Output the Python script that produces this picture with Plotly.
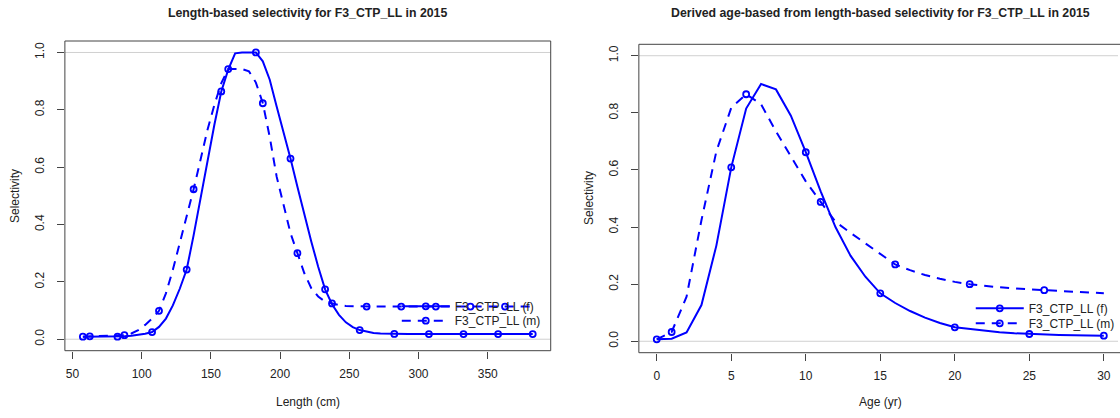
import plotly.graph_objects as go

# ---------------- data ----------------
lengths = [57.5, 62.5, 67.5, 72.5, 77.5, 82.5, 87.5, 92.5, 97.5, 102.5,
           107.5, 112.5, 117.5, 122.5, 127.5, 132.5, 137.5, 142.5, 147.5, 152.5,
           157.5, 162.5, 167.5, 172.5, 177.5, 182.5, 187.5, 192.5, 197.5, 202.5,
           207.5, 212.5, 217.5, 222.5, 227.5, 232.5, 237.5, 242.5, 247.5, 252.5,
           257.5, 262.5, 267.5, 272.5, 277.5, 282.5, 287.5, 292.5, 297.5, 302.5,
           307.5, 312.5, 317.5, 322.5, 327.5, 332.5, 337.5, 342.5, 347.5, 352.5,
           357.5, 362.5, 367.5, 372.5, 377.5, 382.5]

sel_len_f = [0.009, 0.009, 0.009, 0.009, 0.009, 0.009, 0.010, 0.012, 0.015, 0.019,
             0.025, 0.043, 0.072, 0.118, 0.176, 0.243, 0.362, 0.492, 0.620, 0.748,
             0.864, 0.940, 0.997, 1.000, 1.000, 1.000, 0.969, 0.905, 0.812, 0.724,
             0.630, 0.532, 0.434, 0.341, 0.253, 0.174, 0.122, 0.085, 0.059, 0.042,
             0.032, 0.026, 0.022, 0.020, 0.019, 0.0185, 0.018, 0.018, 0.018, 0.018,
             0.018, 0.018, 0.018, 0.018, 0.018, 0.018, 0.018, 0.018, 0.018, 0.018,
             0.018, 0.018, 0.018, 0.018, 0.018, 0.018]

sel_len_m = [0.009, 0.010, 0.010, 0.010, 0.011, 0.012, 0.014, 0.020, 0.032, 0.050,
             0.072, 0.099, 0.160, 0.242, 0.335, 0.428, 0.523, 0.626, 0.730, 0.817,
             0.893, 0.942, 0.943, 0.942, 0.934, 0.895, 0.823, 0.705, 0.567, 0.463,
             0.370, 0.300, 0.230, 0.178, 0.149, 0.131, 0.125, 0.119, 0.116, 0.115,
             0.114, 0.114, 0.114, 0.114, 0.114, 0.114, 0.114, 0.114, 0.114, 0.114,
             0.114, 0.114, 0.114, 0.114, 0.114, 0.114, 0.114, 0.114, 0.114, 0.114,
             0.114, 0.114, 0.114, 0.114, 0.114, 0.114]

ages = [0, 1, 2, 3, 4, 5, 6, 7, 8, 9, 10, 11, 12, 13, 14, 15, 16, 17, 18, 19,
        20, 21, 22, 23, 24, 25, 26, 27, 28, 29, 30]

sel_age_f = [0.007, 0.009, 0.031, 0.127, 0.335, 0.609, 0.815, 0.901, 0.882, 0.790,
             0.662, 0.525, 0.399, 0.300, 0.226, 0.168, 0.134, 0.106, 0.083, 0.064,
             0.049, 0.043, 0.037, 0.032, 0.028, 0.0255, 0.024, 0.022, 0.021, 0.020,
             0.0196]

sel_age_m = [0.007, 0.0325, 0.156, 0.424, 0.665, 0.818, 0.865, 0.830, 0.735, 0.645,
             0.560, 0.488, 0.418, 0.380, 0.343, 0.305, 0.269, 0.249, 0.232, 0.219,
             0.208, 0.200, 0.194, 0.189, 0.185, 0.182, 0.179, 0.176, 0.173, 0.170,
             0.168]

len_ticks = [50, 100, 150, 200, 250, 300, 350]
age_ticks = [0, 5, 10, 15, 20, 25, 30]
sel_ticks = [0.0, 0.2, 0.4, 0.6, 0.8, 1.0]
ref_levels = [0, 1]
series_names = ["F3_CTP_LL (f)", "F3_CTP_LL (m)"]
titles = ["Length-based selectivity for F3_CTP_LL in 2015",
          "Derived age-based from length-based selectivity for F3_CTP_LL in 2015"]
x_titles = ["Length (cm)", "Age (yr)"]
y_title = "Selectivity"

# ---------------- style / layout helpers ----------------
W, H = 1120, 418
FONT = "Liberation Sans, Arial, sans-serif"
BLUE = "#0000FF"
AXC = "#444444"
TXT = "#222222"


def fx(p):
    return p / W


def fy(p):
    return 1 - p / H


def marked(xs, ys, start, step=5):
    mx, my = [], []
    for i in range(start, len(xs), step):
        mx += [xs[i], None]
        my += [ys[i], None]
    return mx, my


fig = go.Figure()

panels = [
    dict(xa="x", ya="y", xs=lengths, f=sel_len_f, m=sel_len_m, legs=("legend", "legend2")),
    dict(xa="x2", ya="y2", xs=ages, f=sel_age_f, m=sel_age_m, legs=("legend3", "legend4")),
]

for p in panels:
    for k, (ys, dash, start, leg, name) in enumerate([
        (p["f"], "solid", 0, p["legs"][0], series_names[0]),
        (p["m"], "9px,7px", 1, p["legs"][1], series_names[1]),
    ]):
        fig.add_trace(go.Scatter(
            x=p["xs"], y=ys, mode="lines", xaxis=p["xa"], yaxis=p["ya"],
            line=dict(color=BLUE, width=2, dash=dash), showlegend=False,
            hoverinfo="skip"))
        mx, my = marked(p["xs"], ys, start)
        fig.add_trace(go.Scatter(
            x=mx, y=my, mode="lines+markers", xaxis=p["xa"], yaxis=p["ya"],
            connectgaps=False, name=name, legend=leg,
            line=dict(color=BLUE, width=2, dash=dash),
            marker=dict(symbol="circle-open", size=6, color=BLUE,
                        line=dict(width=1.8, color=BLUE))))

# plot boxes and grey reference lines
box_defs = [("x", "y", 1.0), ("x2", "y2", 1.02)]
for xa, ya, x1 in box_defs:
    for lv in ref_levels:
        fig.add_shape(type="line", xref=f"{xa} domain", yref=ya, x0=0, x1=1,
                      y0=lv, y1=lv, line=dict(color="#D0D0D0", width=1), layer="below")
    fig.add_shape(type="rect", xref=f"{xa} domain", yref=f"{ya} domain",
                  x0=0, x1=x1, y0=0, y1=1, line=dict(color=AXC, width=1))

axis_common = dict(showgrid=False, zeroline=False, showline=False, ticks="outside",
                   ticklen=7, tickwidth=1, tickcolor=AXC,
                   tickfont=dict(family=FONT, size=12, color=TXT))

fig.update_layout(
    width=W, height=H, margin=dict(l=0, r=0, t=0, b=0),
    paper_bgcolor="white", plot_bgcolor="white",
    font=dict(family=FONT, size=12, color=TXT),
    xaxis=dict(domain=[fx(65), fx(551.7)], range=[44.5, 395.5], tickvals=len_ticks,
               anchor="y", ticklabelstandoff=5, **axis_common),
    yaxis=dict(domain=[fy(350.7), fy(41)], range=[-0.04, 1.04], tickvals=sel_ticks,
               tickformat=".1f", tickangle=-90, anchor="x", ticklabelstandoff=8,
               **axis_common),
    xaxis2=dict(domain=[fx(640), 1.0], range=[-1.2, -1.2 + 480 / 14.93], tickvals=age_ticks,
                anchor="y2", ticklabelstandoff=5, **axis_common),
    yaxis2=dict(domain=[fy(352.7), fy(44.3)], range=[-0.04, 1.04], tickvals=sel_ticks,
                tickformat=".1f", tickangle=-90, anchor="x2", ticklabelstandoff=8,
                **axis_common),
)

leg_common = dict(xanchor="left", yanchor="middle", bgcolor="rgba(0,0,0,0)",
                  borderwidth=0, itemwidth=48, itemclick=False, itemdoubleclick=False,
                  font=dict(family=FONT, size=12, color=TXT))
fig.update_layout(
    legend=dict(x=fx(397.5), y=fy(306.3), **leg_common),
    legend2=dict(x=fx(397.5), y=fy(320.7), **leg_common),
    legend3=dict(x=fx(972.5), y=fy(308.3), **leg_common),
    legend4=dict(x=fx(972.5), y=fy(323.3), **leg_common),
)

ann = []
centers = [(65 + 551.7) / 2, (640 + 1124.5) / 2]
for i, c in enumerate(centers):
    ann.append(dict(text=f"<b>{titles[i]}</b>", x=fx(c), y=fy(13), xref="paper", yref="paper",
                    showarrow=False, xanchor="center", yanchor="middle",
                    font=dict(family=FONT, size=12.3, color=TXT)))
    ann.append(dict(text=x_titles[i], x=fx(c), y=fy(402), xref="paper", yref="paper",
                    showarrow=False, xanchor="center", yanchor="middle",
                    font=dict(family=FONT, size=12, color=TXT)))
for xc, yc in [(15, 196), (590, 198)]:
    ann.append(dict(text=y_title, x=fx(xc), y=fy(yc), xref="paper", yref="paper",
                    showarrow=False, textangle=-90, xanchor="center", yanchor="middle",
                    font=dict(family=FONT, size=12, color=TXT)))
fig.update_layout(annotations=ann)

fig.write_html("out.html")
